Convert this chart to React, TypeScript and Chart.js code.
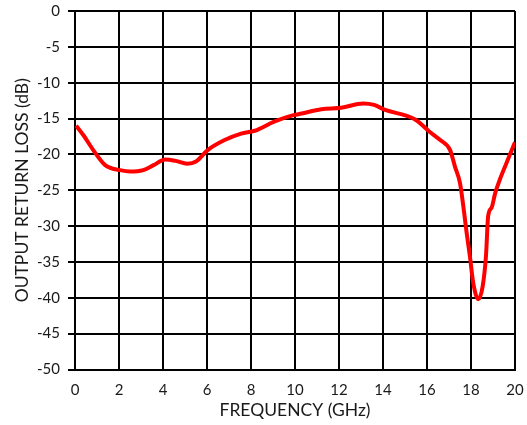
import React, { useEffect, useRef } from "react";
import { Chart, registerables } from "chart.js";

Chart.register(...registerables);

const freqGHz = [0.05, 0.4, 0.83, 1.37, 2.05, 2.5, 3.1, 3.57, 4.1, 4.58, 5.1, 5.5, 6.03, 6.8, 7.55, 8.17, 9.08, 9.85, 10.3, 11.2, 12.1, 13.1, 13.6, 14.1, 15.05, 15.5, 16.1, 16.6, 17.05, 17.27, 17.5, 17.65, 17.8, 17.95, 18.1, 18.33, 18.53, 18.68, 18.78, 18.94, 19.1, 19.3, 19.6, 20.0];
const returnLossDb = [-16.0, -17.4, -19.4, -21.5, -22.2, -22.4, -22.2, -21.5, -20.7, -20.9, -21.3, -21.0, -19.4, -18.0, -17.1, -16.7, -15.4, -14.6, -14.3, -13.7, -13.5, -12.9, -13.1, -13.8, -14.6, -15.2, -16.8, -18.0, -19.4, -21.7, -24.0, -27.2, -30.9, -34.2, -37.9, -40.2, -38.4, -34.2, -28.6, -27.4, -25.4, -23.6, -21.3, -18.3];
const xTicks = [0, 2, 4, 6, 8, 10, 12, 14, 16, 18, 20];
const yTicks = [0, -5, -10, -15, -20, -25, -30, -35, -40, -45, -50];

const FONT = "Lato, 'Liberation Sans', sans-serif";

export default function App() {
  const ref = useRef<HTMLCanvasElement | null>(null);
  useEffect(() => {
    document.body.style.margin = "0";
    if (!ref.current) return;
    const chart = new Chart(ref.current, {
      type: "line",
      data: {
        datasets: [
          {
            data: freqGHz.map((f, i) => ({ x: f, y: returnLossDb[i] })),
            borderColor: "#ff0000",
            borderWidth: 4,
            pointRadius: 0,
            cubicInterpolationMode: "monotone",
            fill: false,
          },
        ],
      },
      options: {
        animation: false,
        responsive: false,
        maintainAspectRatio: false,
        layout: { padding: { top: 11, right: 12, left: 0, bottom: 0 } },
        plugins: { legend: { display: false }, tooltip: { enabled: false } },
        scales: {
          x: {
            type: "linear",
            min: 0,
            max: 20,
            afterBuildTicks: (s: any) => {
              s.ticks = xTicks.map((v) => ({ value: v }));
            },
            afterFit: (s: any) => {
              s.height = 55.5;
              s.paddingLeft = 0;
              s.paddingRight = 0;
            },
            ticks: { color: "#1a1a1a", font: { family: FONT, size: 15 }, padding: 12, maxRotation: 0, autoSkip: false },
            grid: { color: "#000", lineWidth: 2, drawTicks: false },
            border: { color: "#000", width: 2 },
            title: { display: true, text: "FREQUENCY (GHz)", color: "#1a1a1a", font: { family: FONT, size: 17.5 }, padding: { top: 0, bottom: 4 } },
          },
          y: {
            type: "linear",
            min: -50,
            max: 0,
            afterBuildTicks: (s: any) => {
              s.ticks = yTicks.map((v) => ({ value: v }));
            },
            afterFit: (s: any) => {
              s.width = 75;
              s.paddingTop = 0;
              s.paddingBottom = 0;
            },
            ticks: { color: "#1a1a1a", font: { family: FONT, size: 15 }, padding: 8, autoSkip: false },
            grid: { color: "#000", lineWidth: 2, tickLength: 7 },
            border: { color: "#000", width: 2 },
            title: { display: true, text: "OUTPUT RETURN LOSS (dB)", color: "#1a1a1a", font: { family: FONT, size: 17.5 }, padding: { top: 12, bottom: 0 } },
          },
        },
      },
    } as any);
    return () => chart.destroy();
  }, []);
  return (
    <div style={{ position: "absolute", left: 0, top: 0, width: 527, height: 425, background: "#fff" }}>
      <canvas ref={ref} width={527} height={425} style={{ width: 527, height: 425, display: "block" }} />
    </div>
  );
}
